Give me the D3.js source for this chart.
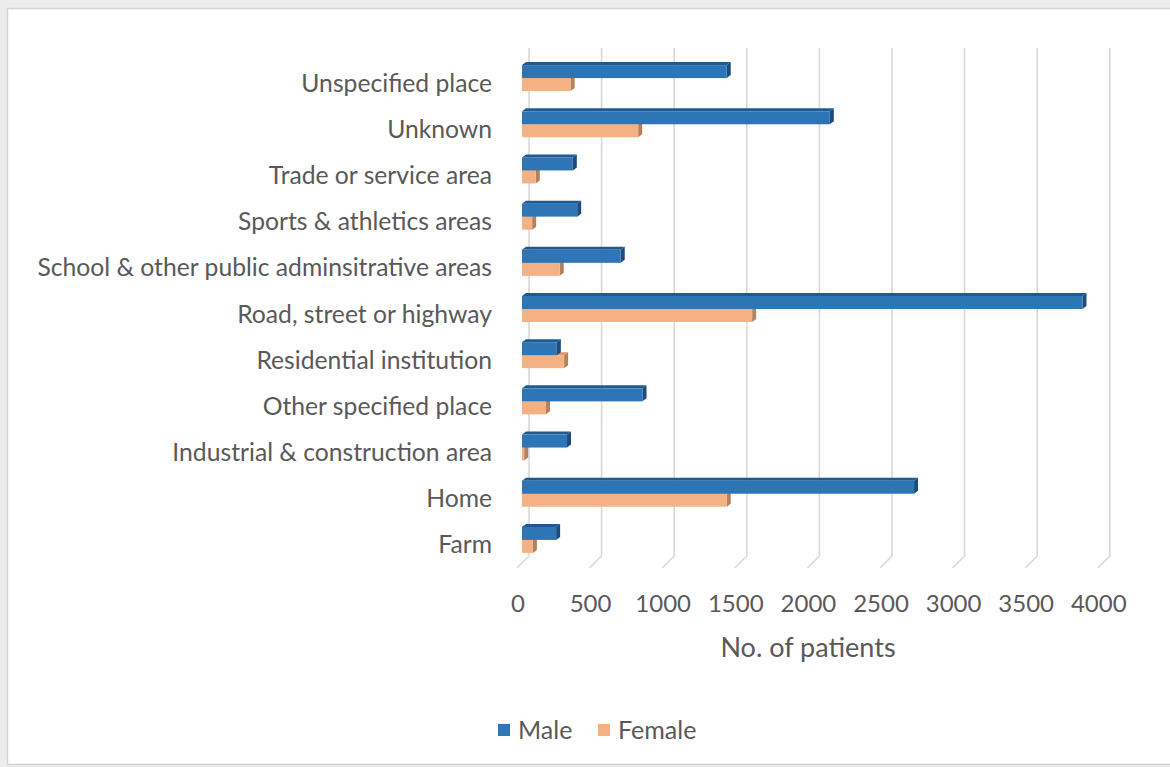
<!DOCTYPE html>
<html>
<head>
<meta charset="utf-8">
<script src="https://cdn.jsdelivr.net/npm/d3@7"></script>
<style>
  html, body { margin: 0; padding: 0; background: #ececec; }
  svg { display: block; }
  text { font-family: Lato, "Open Sans", sans-serif; fill: #595959; }
</style>
</head>
<body>
<svg id="chart" width="1170" height="767"></svg>
<script>
// Place of occurrence, listed top to bottom as drawn
const categories = [
  "Unspecified place",
  "Unknown",
  "Trade or service area",
  "Sports & athletics areas",
  "School & other public adminsitrative areas",
  "Road, street or highway",
  "Residential institution",
  "Other specified place",
  "Industrial & construction area",
  "Home",
  "Farm"
];
const maleValues   = [1410, 2120, 350, 380, 680, 3860, 240, 830, 310, 2700, 235];
const femaleValues = [335, 800, 95, 70, 260, 1585, 290, 165, 15, 1410, 75];
const xTicks = [0, 500, 1000, 1500, 2000, 2500, 3000, 3500, 4000];
const seriesNames = ["Male", "Female"];

const svg = d3.select("#chart");

// panel
svg.append("rect")
  .attr("x", 7.5).attr("y", 8.5)
  .attr("width", 1180).attr("height", 756)
  .attr("fill", "#ffffff")
  .attr("stroke", "#d3d3d3").attr("stroke-width", 1.5);

const x = d3.scaleLinear().domain([0, 4000]).range([522, 1102.8]);
const y = d3.scaleBand().domain(categories).range([60, 568]).padding(0);

// 3D offsets: wall/floor perspective and bar depth
const wallDx = 7, floorDx = -12, floorDy = 12, gridTop = 48, gridBottom = 556;
const depthDx = 4, depthDy = 3;

// gridlines on the back wall, continuing down the floor
const grid = svg.append("g");
xTicks.forEach(v => {
  const gx = x(v) + wallDx;
  grid.append("path")
    .attr("d", `M${gx},${gridTop} L${gx},${gridBottom} L${gx + floorDx},${gridBottom + floorDy}`)
    .attr("fill", "none")
    .attr("stroke", "#d9d9d9")
    .attr("stroke-width", 1.6);
});

// tick labels at the front edge of the floor
svg.append("g").selectAll("text")
  .data(xTicks).join("text")
  .attr("x", v => x(v) - 4)
  .attr("y", 612)
  .attr("text-anchor", "middle")
  .attr("font-size", 24)
  .text(v => v);

svg.append("text")
  .attr("x", 808).attr("y", 657)
  .attr("text-anchor", "middle")
  .attr("font-size", 27)
  .text("No. of patients");

// category labels
svg.append("g").selectAll("text")
  .data(categories).join("text")
  .attr("x", 492)
  .attr("y", d => y(d) + y.bandwidth() / 2 + 8.5)
  .attr("text-anchor", "end")
  .attr("font-size", 24.7)
  .text(d => d);

// one 3D bar: front face, top face and right side face
function bar(g, x1, top, h, colors) {
  const x0 = x(0);
  g.append("polygon")
    .attr("points", [[x0, top], [x0 + depthDx, top - depthDy], [x1 + depthDx, top - depthDy], [x1, top]].join(" "))
    .attr("fill", colors.top);
  g.append("polygon")
    .attr("points", [[x1, top], [x1 + depthDx, top - depthDy], [x1 + depthDx, top + h - depthDy], [x1, top + h]].join(" "))
    .attr("fill", colors.side);
  g.append("rect")
    .attr("x", x0).attr("y", top)
    .attr("width", Math.max(0, x1 - x0)).attr("height", h)
    .attr("fill", colors.front);
}

const maleColors = { front: "#2e75b6", top: "#215991", side: "#1d4c7c" };
const femaleColors = { front: "#f4b183", top: "#d9976a", side: "#b5805a" };

const bars = svg.append("g");
categories.forEach((c, i) => {
  const cy = y(c) + y.bandwidth() / 2;
  const g = bars.append("g");
  bar(g, x(femaleValues[i]), cy - 5, 13, femaleColors);
  bar(g, x(maleValues[i]), cy - 18, 13, maleColors);
});

// legend
const legend = svg.append("g");
const legendItems = [
  { name: seriesNames[0], color: maleColors.front, x: 498 },
  { name: seriesNames[1], color: femaleColors.front, x: 598 }
];
legendItems.forEach(d => {
  legend.append("rect")
    .attr("x", d.x).attr("y", 724)
    .attr("width", 12).attr("height", 12)
    .attr("fill", d.color);
  legend.append("text")
    .attr("x", d.x + 20).attr("y", 739)
    .attr("font-size", 25)
    .text(d.name);
});
</script>
</body>
</html>
